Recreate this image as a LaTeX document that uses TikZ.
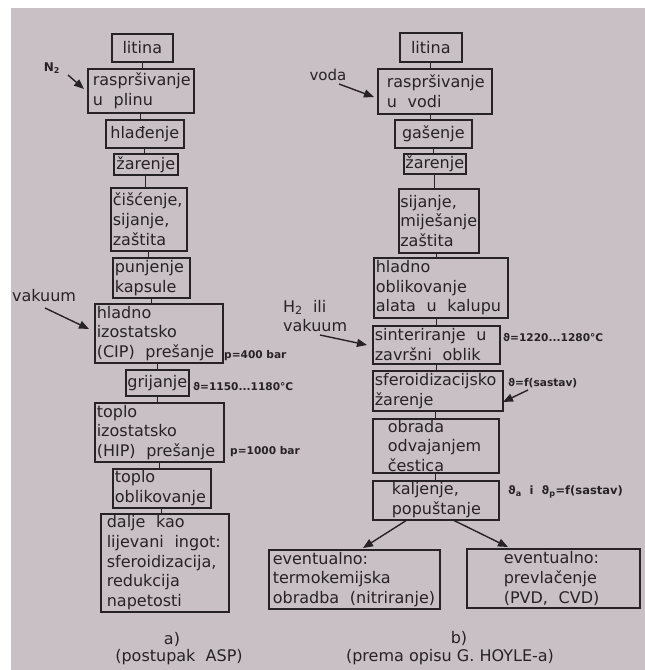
\documentclass[tikz,border=0pt]{standalone}
\usepackage{fontspec}
\setmainfont{DejaVu Sans}
\usetikzlibrary{arrows.meta}
\definecolor{paper}{RGB}{201,192,197}
\definecolor{ink}{RGB}{38,34,37}
\hyphenpenalty=10000
\exhyphenpenalty=10000
\newcommand{\bxfont}{\fontsize{16}{19.7}\selectfont\hyphenpenalty=10000 }
\newcommand{\smfont}{\fontsize{10.6}{12}\selectfont\bfseries}
\begin{document}
\begin{tikzpicture}[x=1pt,y=-1pt,
  bx/.style={draw=ink, line width=1.6pt, anchor=north west, inner ysep=0pt,
    font=\bxfont, text=ink, align=left},
  bxc/.style={bx, align=center, inner xsep=1pt},
  lab/.style={font=\smfont, text=ink, inner sep=0pt, anchor=west},
  big/.style={font=\bxfont, text=ink, inner sep=0pt, align=left},
  ln/.style={draw=ink, line width=1.3pt},
  arr/.style={draw=ink, line width=1.4pt, -{Triangle[length=10pt,width=8pt]}}]
\useasboundingbox (0,0) rectangle (645,670);
\fill[white] (0,0) rectangle (645,670);
\fill[paper] (11,8) rectangle (645,670);

% ---------- column a ----------
\node[bxc, minimum width=61pt, minimum height=28pt, text width=59pt] (a1) at (111,33) {litina};
\node[bx, minimum width=106pt, minimum height=44pt, inner xsep=5pt, text width=96pt] (a2) at (87,68) {raspršivanje\\u~~plinu};
\node[bxc, minimum width=78pt, minimum height=28pt, text width=76pt] (a3) at (105,119) {hlađenje};
\node[bxc, minimum width=64pt, minimum height=21pt, text width=62pt] (a4) at (113,153) {žarenje};
\node[bx, minimum width=76pt, minimum height=63pt, inner xsep=2pt, text width=72pt] (a5) at (110,187) {čišćenje,\\sijanje,\\zaštita};
\node[bx, minimum width=77pt, minimum height=40pt, inner xsep=2pt, text width=73pt] (a6) at (112,257) {punjenje\\kapsule};
\node[bx, minimum width=128pt, minimum height=59pt, inner xsep=2pt, text width=124pt] (a7) at (94,303) {hladno\\izostatsko\\(CIP)~~prešanje};
\node[bxc, minimum width=63pt, minimum height=26pt, text width=61pt] (a8) at (125,369) {grijanje};
\node[bx, minimum width=129pt, minimum height=59pt, inner xsep=2pt, text width=125pt] (a9) at (94,402) {toplo\\izostatsko\\(HIP)~~prešanje};
\node[bx, minimum width=98pt, minimum height=39pt, inner xsep=2pt, text width=94pt] (a10) at (112,468) {toplo\\oblikovanje};
\node[bx, minimum width=128pt, minimum height=98pt, inner xsep=6pt, text width=116pt] (a11) at (100,513) {dalje~~kao\\lijevani~~ingot:\\sferoidizacija,\\redukcija\\napetosti};

\draw[ln] (a1.south) -- (a1.south |- a2.north);
\draw[ln] (a2.south) -- (a2.south |- a3.north);
\draw[ln] (a3.south) -- (a3.south |- a4.north);
\draw[ln] (a4.south) -- (a4.south |- a5.north);
\draw[ln] (a5.south) -- (a5.south |- a6.north);
\draw[ln] (a6.south) -- (a6.south |- a7.north);
\draw[ln] (a8.north |- a7.south) -- (a8.north);
\draw[ln] (a8.south) -- (a8.south |- a9.north);
\draw[ln] (a9.south) -- (a9.south |- a10.north);
\draw[ln] (a10.south) -- (a10.south |- a11.north);

\node[font=\fontsize{12}{14}\selectfont\bfseries, text=ink, inner sep=0pt] (n2) at (52,68) {N\textsubscript{2}};
\coordinate (n2s) at (68,75);
\coordinate (n2t) at (84,89);
\draw[arr] (n2s) -- (n2t);
\node[big] (vaka) at (44,296) {vakuum};
\coordinate (vas) at (45,308);
\coordinate (vat) at (89,329);
\draw[arr] (vas) -- (vat);
\node[lab] (p400) at (224,356) {p=400 bar};
\node[lab] (t1150) at (193,386) {ϑ=1150...1180°C};
\node[lab] (p1000) at (230,452) {p=1000 bar};
\node[big] (capa) at (172,639) {a)};
\node[big] (capa2) at (179,657) {(postupak~~ASP)};

% ---------- column b ----------
\node[bxc, minimum width=62pt, minimum height=29pt, text width=60pt] (b1) at (399,32) {litina};
\node[bx, minimum width=114pt, minimum height=45pt, inner xsep=9pt, text width=96pt] (b2) at (377,68) {raspršivanje\\u~~vodi};
\node[bxc, minimum width=77pt, minimum height=28pt, text width=75pt] (b3) at (394,119) {gašenje};
\node[bxc, minimum width=62pt, minimum height=20pt, text width=60pt] (b4) at (403,153) {žarenje};
\node[bx, minimum width=80pt, minimum height=64pt, inner xsep=1.5pt, text width=77pt] (b5) at (398,188) {sijanje,\\miješanje\\zaštita};
\node[bx, minimum width=134pt, minimum height=60pt, inner xsep=2pt, text width=130pt] (b6) at (373,257) {hladno\\oblikovanje\\alata~~u~~kalupu};
\node[bx, minimum width=127pt, minimum height=38pt, inner xsep=2pt, text width=123pt] (b7) at (372,325) {sinteriranje~~u\\završni~~oblik};
\node[bx, minimum width=130pt, minimum height=40pt, inner xsep=2pt, text width=126pt] (b8) at (372,370) {sferoidizacijsko\\žarenje};
\node[bx, minimum width=126pt, minimum height=54pt, inner xsep=15pt, text width=96pt] (b9) at (372,418) {obrada\\odvajanjem\\čestica};
\node[bx, minimum width=126pt, minimum height=39pt, inner xsep=19pt, text width=88pt] (b10) at (372,480) {kaljenje,\\popuštanje};
\node[bx, minimum width=171pt, minimum height=59pt, inner xsep=4pt, text width=163pt] (c1) at (268,549) {eventualno:\\termokemijska\\obradba~~(nitriranje)};
\node[bx, minimum width=173pt, minimum height=59pt, inner xsep=37pt, text width=99pt] (c2) at (466,548) {eventualno:\\prevlačenje\\(PVD,~~CVD)};

\draw[ln] (b1.south) -- (b1.south |- b2.north);
\draw[ln] (b1.south |- b2.south) -- (b1.south |- b3.north);
\draw[ln] (b3.south) -- (b3.south |- b4.north);
\draw[ln] (b4.south) -- (b4.south |- b5.north);
\draw[ln] (b7.north |- b5.south) -- (b7.north |- b6.north);
\draw[ln] (b7.north |- b6.south) -- (b7.north);
\draw[ln] (b7.south) -- (b7.south |- b8.north);
\draw[ln] (b9.north |- b8.south) -- (b9.north);
\draw[ln] (b9.south) -- (b9.south |- b10.north);

\coordinate (k1) at (407,520);
\coordinate (k1t) at (363,548);
\coordinate (k2) at (453,520);
\coordinate (k2t) at (508,547);
\draw[arr] (k1) -- (k1t);
\draw[arr] (k2) -- (k2t);

\node[font=\fontsize{15}{18}\selectfont, text=ink, inner sep=0pt] (voda) at (328,75) {voda};
\coordinate (vos) at (339,84);
\coordinate (vot) at (374,97);
\draw[arr] (vos) -- (vot);
\node[big, anchor=west] (h2) at (283,316) {H\textsubscript{2}~~ili\\vakuum};
\coordinate (h2s) at (320,335);
\coordinate (h2t) at (367,345);
\draw[arr] (h2s) -- (h2t);
\node[lab] (t1220) at (503,337) {ϑ=1220...1280°C};
\node[lab] (tf) at (508,383) {ϑ=f(sastav)};
\coordinate (tfs) at (528,390);
\coordinate (tft) at (503,402);
\draw[arr] (tfs) -- (tft);
\node[lab, font=\fontsize{11.5}{13}\selectfont\bfseries] (tap) at (508,492) {ϑ\textsubscript{a}~~i~~ϑ\textsubscript{p}=f(sastav)};
\node[big] (capb) at (459,638) {b)};
\node[big] (capb2) at (450,657) {(prema opisu G. HOYLE-a)};
\end{tikzpicture}
\end{document}
